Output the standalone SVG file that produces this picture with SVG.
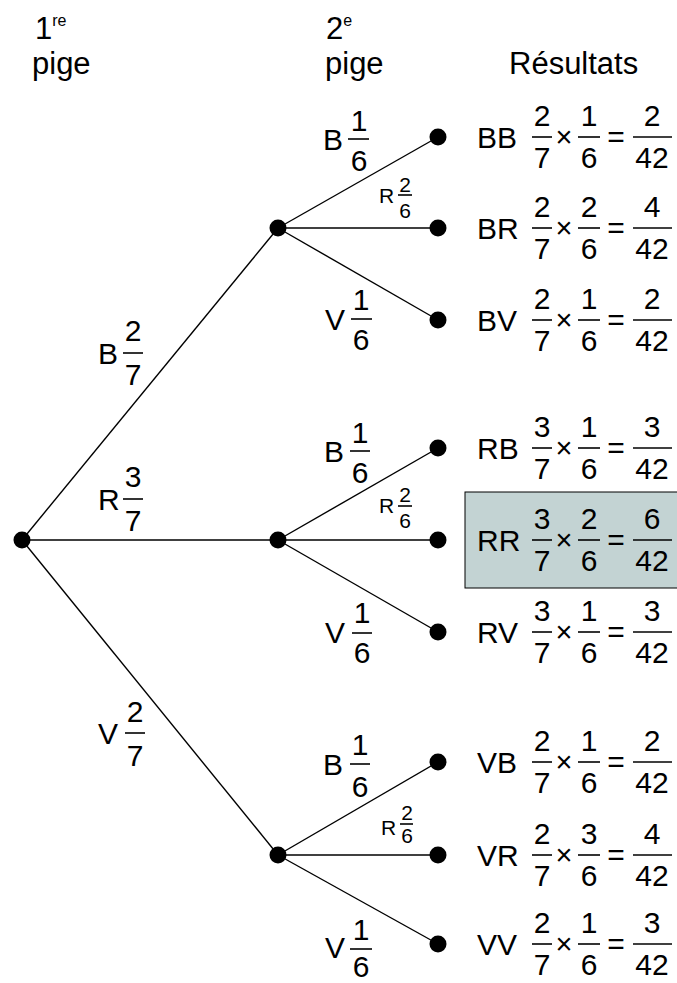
<svg xmlns="http://www.w3.org/2000/svg" width="677" height="983" viewBox="0 0 677 983">
<style>
text{font-family:"Liberation Sans",Arial,sans-serif;fill:#000}
.h{font-size:31px}
.sup{font-size:16px}
.l{font-size:30px}
.n{font-size:30px;text-anchor:middle}
.x{font-size:29px;text-anchor:middle}
.q{font-size:30px;text-anchor:middle}
.s{font-size:21px}
.sn{font-size:21px;text-anchor:middle}
.e line{stroke:#000;stroke-width:1.4}
.bar{stroke:#000;stroke-width:1.6}
.dot{fill:#000}
</style>
<rect width="677" height="983" fill="#fff"/>
<g id="headers">
<text class="h" x="35" y="39">1<tspan class="sup" dy="-13">re</tspan></text>
<text class="h" x="32" y="74">pige</text>
<text class="h" x="326" y="39">2<tspan class="sup" dy="-13">e</tspan></text>
<text class="h" x="325" y="74">pige</text>
<text class="h" x="509" y="74">Résultats</text>
</g>
<rect id="highlight" x="465" y="492" width="214" height="96" fill="#c3d3d3" stroke="#000" stroke-width="1"/>
<g id="connectors" class="e">
<line x1="22" y1="540" x2="278" y2="228"/>
<line x1="22" y1="540" x2="278" y2="540"/>
<line x1="22" y1="540" x2="278" y2="855"/>
<line x1="278" y1="228" x2="438" y2="137"/>
<line x1="278" y1="228" x2="438" y2="228"/>
<line x1="278" y1="228" x2="438" y2="320"/>
<line x1="278" y1="540" x2="438" y2="448"/>
<line x1="278" y1="540" x2="438" y2="540"/>
<line x1="278" y1="540" x2="438" y2="632"/>
<line x1="278" y1="855" x2="438" y2="762"/>
<line x1="278" y1="855" x2="438" y2="855"/>
<line x1="278" y1="855" x2="438" y2="944"/>
</g>
<g id="edge-labels">
<g id="lB1"><text class="l" x="98" y="364">B</text><text class="n" x="133" y="341">2</text><line class="bar" x1="123" y1="353" x2="143" y2="353"/><text class="n" x="133" y="385">7</text></g>
<g id="lR1"><text class="l" x="98" y="510">R</text><text class="n" x="133" y="487">3</text><line class="bar" x1="123" y1="499" x2="143" y2="499"/><text class="n" x="133" y="531">7</text></g>
<g id="lV1"><text class="l" x="98" y="744">V</text><text class="n" x="135" y="722">2</text><line class="bar" x1="125" y1="733" x2="145" y2="733"/><text class="n" x="135" y="766">7</text></g>

<g id="lBB"><text class="l" x="323" y="150">B</text><text class="n" x="359" y="131">1</text><line class="bar" x1="348" y1="139" x2="369" y2="139"/><text class="n" x="359" y="171">6</text></g>
<g id="lBR"><text class="s" x="379" y="203">R</text><text class="sn" x="405" y="192">2</text><line class="bar" x1="398" y1="195" x2="412" y2="195"/><text class="sn" x="405" y="218">6</text></g>
<g id="lBV"><text class="l" x="325" y="330">V</text><text class="n" x="361" y="310">1</text><line class="bar" x1="351" y1="319" x2="372" y2="319"/><text class="n" x="361" y="350">6</text></g>

<g id="lRB"><text class="l" x="324" y="462">B</text><text class="n" x="360" y="443">1</text><line class="bar" x1="350" y1="451" x2="370" y2="451"/><text class="n" x="360" y="483">6</text></g>
<g id="lRR"><text class="s" x="379" y="513">R</text><text class="sn" x="405" y="502">2</text><line class="bar" x1="398" y1="506" x2="412" y2="506"/><text class="sn" x="405" y="528">6</text></g>
<g id="lRV"><text class="l" x="325" y="643">V</text><text class="n" x="362" y="623">1</text><line class="bar" x1="352" y1="633" x2="372" y2="633"/><text class="n" x="362" y="663">6</text></g>

<g id="lVB"><text class="l" x="323" y="775">B</text><text class="n" x="360" y="755">1</text><line class="bar" x1="350" y1="764" x2="370" y2="764"/><text class="n" x="360" y="797">6</text></g>
<g id="lVR"><text class="s" x="381" y="835">R</text><text class="sn" x="407" y="820">2</text><line class="bar" x1="400" y1="824" x2="413" y2="824"/><text class="sn" x="407" y="843">6</text></g>
<g id="lVV"><text class="l" x="325" y="958">V</text><text class="n" x="361" y="940">1</text><line class="bar" x1="350" y1="949" x2="372" y2="949"/><text class="n" x="361" y="977">6</text></g>
</g>
<g id="nodes">
<g id="n0"><circle class="dot" cx="22" cy="540" r="8.5"/></g>
<g id="nB"><circle class="dot" cx="278" cy="228" r="8.5"/></g>
<g id="nR"><circle class="dot" cx="278" cy="540" r="8.5"/></g>
<g id="nV"><circle class="dot" cx="278" cy="855" r="8.5"/></g>
<g id="nBB"><circle class="dot" cx="438" cy="137" r="8.5"/><text class="l" x="477" y="148">BB</text><text class="n" x="542" y="126">2</text><line class="bar" x1="532" y1="137" x2="552" y2="137"/><text class="n" x="542" y="168">7</text><text class="x" x="564" y="147">×</text><text class="n" x="589" y="126">1</text><line class="bar" x1="578" y1="137" x2="600" y2="137"/><text class="n" x="589" y="168">6</text><text class="q" x="616" y="147">=</text><text class="n" x="652" y="126">2</text><line class="bar" x1="633" y1="137" x2="672" y2="137"/><text class="n" x="652" y="168">42</text></g>
<g id="nBR"><circle class="dot" cx="438" cy="228" r="8.5"/><text class="l" x="477" y="239">BR</text><text class="n" x="542" y="217">2</text><line class="bar" x1="532" y1="228" x2="552" y2="228"/><text class="n" x="542" y="259">7</text><text class="x" x="564" y="238">×</text><text class="n" x="589" y="217">2</text><line class="bar" x1="578" y1="228" x2="600" y2="228"/><text class="n" x="589" y="259">6</text><text class="q" x="616" y="238">=</text><text class="n" x="652" y="217">4</text><line class="bar" x1="633" y1="228" x2="672" y2="228"/><text class="n" x="652" y="259">42</text></g>
<g id="nBV"><circle class="dot" cx="438" cy="320" r="8.5"/><text class="l" x="477" y="331">BV</text><text class="n" x="542" y="309">2</text><line class="bar" x1="532" y1="320" x2="552" y2="320"/><text class="n" x="542" y="351">7</text><text class="x" x="564" y="330">×</text><text class="n" x="589" y="309">1</text><line class="bar" x1="578" y1="320" x2="600" y2="320"/><text class="n" x="589" y="351">6</text><text class="q" x="616" y="330">=</text><text class="n" x="652" y="309">2</text><line class="bar" x1="633" y1="320" x2="672" y2="320"/><text class="n" x="652" y="351">42</text></g>
<g id="nRB"><circle class="dot" cx="438" cy="448" r="8.5"/><text class="l" x="477" y="459">RB</text><text class="n" x="542" y="437">3</text><line class="bar" x1="532" y1="448" x2="552" y2="448"/><text class="n" x="542" y="479">7</text><text class="x" x="564" y="458">×</text><text class="n" x="589" y="437">1</text><line class="bar" x1="578" y1="448" x2="600" y2="448"/><text class="n" x="589" y="479">6</text><text class="q" x="616" y="458">=</text><text class="n" x="652" y="437">3</text><line class="bar" x1="633" y1="448" x2="672" y2="448"/><text class="n" x="652" y="479">42</text></g>
<g id="nRR"><circle class="dot" cx="438" cy="540" r="8.5"/><text class="l" x="477" y="551">RR</text><text class="n" x="542" y="529">3</text><line class="bar" x1="532" y1="540" x2="552" y2="540"/><text class="n" x="542" y="571">7</text><text class="x" x="564" y="550">×</text><text class="n" x="589" y="529">2</text><line class="bar" x1="578" y1="540" x2="600" y2="540"/><text class="n" x="589" y="571">6</text><text class="q" x="616" y="550">=</text><text class="n" x="652" y="529">6</text><line class="bar" x1="633" y1="540" x2="672" y2="540"/><text class="n" x="652" y="571">42</text></g>
<g id="nRV"><circle class="dot" cx="438" cy="632" r="8.5"/><text class="l" x="477" y="643">RV</text><text class="n" x="542" y="621">3</text><line class="bar" x1="532" y1="632" x2="552" y2="632"/><text class="n" x="542" y="663">7</text><text class="x" x="564" y="642">×</text><text class="n" x="589" y="621">1</text><line class="bar" x1="578" y1="632" x2="600" y2="632"/><text class="n" x="589" y="663">6</text><text class="q" x="616" y="642">=</text><text class="n" x="652" y="621">3</text><line class="bar" x1="633" y1="632" x2="672" y2="632"/><text class="n" x="652" y="663">42</text></g>
<g id="nVB"><circle class="dot" cx="438" cy="762" r="8.5"/><text class="l" x="477" y="773">VB</text><text class="n" x="542" y="751">2</text><line class="bar" x1="532" y1="762" x2="552" y2="762"/><text class="n" x="542" y="793">7</text><text class="x" x="564" y="772">×</text><text class="n" x="589" y="751">1</text><line class="bar" x1="578" y1="762" x2="600" y2="762"/><text class="n" x="589" y="793">6</text><text class="q" x="616" y="772">=</text><text class="n" x="652" y="751">2</text><line class="bar" x1="633" y1="762" x2="672" y2="762"/><text class="n" x="652" y="793">42</text></g>
<g id="nVR"><circle class="dot" cx="438" cy="855" r="8.5"/><text class="l" x="477" y="866">VR</text><text class="n" x="542" y="844">2</text><line class="bar" x1="532" y1="855" x2="552" y2="855"/><text class="n" x="542" y="886">7</text><text class="x" x="564" y="865">×</text><text class="n" x="589" y="844">3</text><line class="bar" x1="578" y1="855" x2="600" y2="855"/><text class="n" x="589" y="886">6</text><text class="q" x="616" y="865">=</text><text class="n" x="652" y="844">4</text><line class="bar" x1="633" y1="855" x2="672" y2="855"/><text class="n" x="652" y="886">42</text></g>
<g id="nVV"><circle class="dot" cx="438" cy="944" r="8.5"/><text class="l" x="477" y="955">VV</text><text class="n" x="542" y="933">2</text><line class="bar" x1="532" y1="944" x2="552" y2="944"/><text class="n" x="542" y="975">7</text><text class="x" x="564" y="954">×</text><text class="n" x="589" y="933">1</text><line class="bar" x1="578" y1="944" x2="600" y2="944"/><text class="n" x="589" y="975">6</text><text class="q" x="616" y="954">=</text><text class="n" x="652" y="933">3</text><line class="bar" x1="633" y1="944" x2="672" y2="944"/><text class="n" x="652" y="975">42</text></g>
</g>
</svg>
